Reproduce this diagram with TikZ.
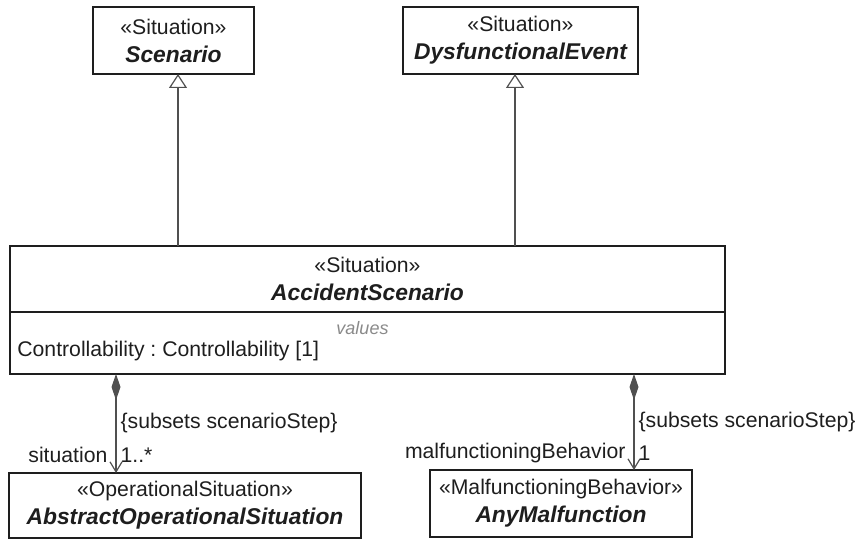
\documentclass[tikz,border=0pt]{standalone}
\usepackage{fontspec}
\setmainfont{Liberation Sans}
\usetikzlibrary{arrows.meta,positioning,calc}
\definecolor{umlink}{HTML}{1E1E1E}
\definecolor{umlline}{HTML}{505050}
\definecolor{umlgrey}{HTML}{8A8A8A}
\newcommand{\clsname}[1]{{\fontsize{11.4}{14}\selectfont\bfseries\itshape #1}}
\frenchspacing
\tikzset{
  font=\fontsize{10.6}{14}\selectfont,
  cls/.style={draw=umlink,line width=0.7pt,fill=white,inner sep=0pt,outer sep=0pt,
              align=center,text=umlink},
  gen/.style={-{Triangle[open,length=7pt,width=9pt]},line width=0.6pt,draw=umlline},
  comp/.style={{Diamond[length=13pt,width=4.5pt,fill=umlline]}-{Straight Barb[length=5pt,width=6pt]},
               line width=0.6pt,draw=umlline},
  lbl/.style={inner sep=2pt,text=umlink},
  role/.style={lbl,anchor=east,inner xsep=4pt},
  note/.style={font=\fontsize{9}{11}\selectfont\itshape,text=umlgrey,inner sep=0pt},
}

\begin{document}
\begin{tikzpicture}[x=0.5pt,y=-0.5pt]
  \useasboundingbox (0,0) rectangle (867,539);

  % parents
  \node[cls,minimum width=80.5pt,minimum height=33.5pt] (scen) at (173.5,40.5)
    {«Situation»\\\clsname{Scenario}};
  \node[cls,minimum width=117.5pt,minimum height=33.5pt] (dysf) at (520.5,40.5)
    {«Situation»\\\clsname{DysfunctionalEvent}};

  % the accident scenario, header + values compartment
  \node[cls,minimum width=357.5pt,minimum height=33pt] (accHead) at (367.5,279)
    {«Situation»\\\clsname{AccidentScenario}};
  \node[cls,minimum width=357.5pt,minimum height=31pt,anchor=north] (accVals) at (accHead.south) {};
  \node[note] (valsHdr) at (362.5,328) {values};
  \node[lbl,inner sep=0pt,anchor=west] (valsAttr) at (17,351) {Controllability : Controllability [1]};

  % parts
  \node[cls,minimum width=176pt,minimum height=32.5pt] (aos) at (185,505.5)
    {«OperationalSituation»\\\clsname{AbstractOperationalSituation}};
  \node[cls,minimum width=131pt,minimum height=33.5pt] (anym) at (561,503.5)
    {«MalfunctioningBehavior»\\\clsname{AnyMalfunction}};

  % generalizations
  \draw[gen] (accHead.north -| 178,0) -- (scen.south -| 178,0);
  \draw[gen] (accHead.north -| 515,0) -- (dysf.south -| 515,0);

  % compositions
  \draw[comp] (accVals.south -| 116,0) --
    node[lbl,anchor=west,pos=0.5] (stepA) {\{subsets scenarioStep\}}
    node[lbl,anchor=west,pos=0.82] (multA) {1..*}
    node[role,pos=0.82] (roleA) {situation}
    (aos.north -| 116,0);
  \draw[comp] (accVals.south -| 634,0) --
    node[lbl,anchor=west,pos=0.5] (stepB) {\{subsets scenarioStep\}}
    node[lbl,anchor=west,pos=0.82] (multB) {1}
    node[role,pos=0.82] (roleB) {malfunctioningBehavior}
    (anym.north -| 634,0);
\end{tikzpicture}
\end{document}
